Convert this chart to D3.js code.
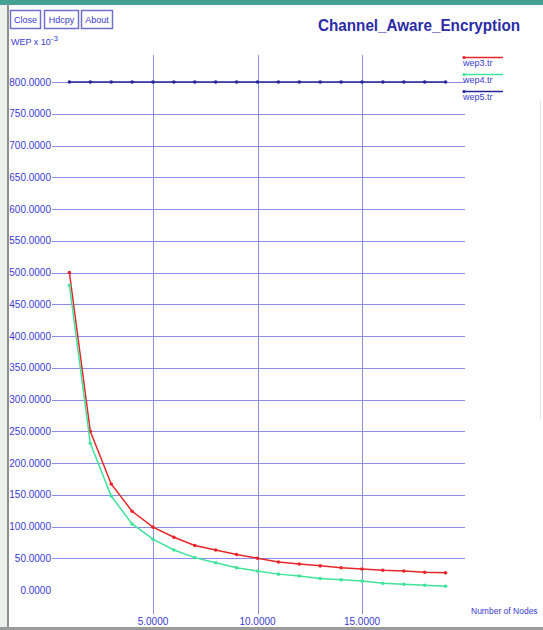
<!DOCTYPE html>
<html>
<head>
<meta charset="utf-8">
<script src="https://cdn.jsdelivr.net/npm/d3@7"></script>
<style>
  body { margin: 0; background: #fff; }
  svg { display: block; font-family: "Liberation Sans", Arial, sans-serif; }
</style>
</head>
<body>
<script>
// number of nodes
var nodes = [1,2,3,4,5,6,7,8,9,10,11,12,13,14,15,16,17,18,19];
// WEP x 10^-3
var wep3 = [500,250,167,124,99,83,70,63,56,50,44,41,38,35,33,31,30,28,27];
var wep4 = [480,231,148,104,80,63,51,43,35,30,25,22,18,16,14,10.5,9,7.4,5.8];
var wep5 = [800,800,800,800,800,800,800,800,800,800,800,800,800,800,800,800,800,800,800];
var seriesNames = ["wep3.tr", "wep4.tr", "wep5.tr"];
var seriesColors = ["#e8262a", "#3fe39a", "#25259a"];
var yTicks = [0,50,100,150,200,250,300,350,400,450,500,550,600,650,700,750,800];
var xTicks = [5,10,15];
var buttons = ["Close", "Hdcpy", "About"];

var width = 543, height = 630;
var blue = "#3a3ad2", grid = "#8c8ce6";

var svg = d3.select("body").append("svg")
    .attr("width", width)
    .attr("height", height);

var x = d3.scaleLinear().domain([0, 20]).range([48.5, 466.5]);
var y = d3.scaleLinear().domain([0, 800]).range([590, 82]);

// frame
svg.append("rect").attr("x", 0).attr("y", 0).attr("width", 8).attr("height", height).attr("fill", "#eef0ee");
svg.append("rect").attr("x", 0).attr("y", 0).attr("width", width).attr("height", 5).attr("fill", "#45a194");
svg.append("rect").attr("x", 7).attr("y", 4).attr("width", 2).attr("height", height).attr("fill", "#8f9190");
svg.append("rect").attr("x", 0).attr("y", 627).attr("width", width).attr("height", 3).attr("fill", "#9a9c9b");
svg.append("line").attr("x1", 540.5).attr("x2", 540.5).attr("y1", 100).attr("y2", 420)
    .attr("stroke", "#e4e4e4");

// buttons
var bx = [10, 44, 81], bw = [30, 34, 31];
buttons.forEach(function(b, i){
	svg.append("rect").attr("x", bx[i] + 0.5).attr("y", 10.5).attr("width", bw[i]).attr("height", 18)
	    .attr("fill", "#fff").attr("stroke", "#7070cc").attr("stroke-width", 1.5);
	svg.append("text").attr("x", bx[i] + bw[i] / 2 + 0.5).attr("y", 23)
	    .attr("text-anchor", "middle").attr("font-size", 9).attr("fill", blue).text(b);
});

var unit = svg.append("text").attr("x", 11).attr("y", 45).attr("font-size", 9).attr("fill", blue);
unit.append("tspan").text("WEP x 10");
unit.append("tspan").attr("dy", -4).attr("font-size", 8).text("-3");

// title
svg.append("text").attr("x", 318).attr("y", 31)
    .attr("font-size", 16).attr("font-weight", "bold").attr("fill", "#2b2ba8")
    .attr("textLength", 202).attr("lengthAdjust", "spacingAndGlyphs")
    .text("Channel_Aware_Encryption");

// grid
svg.selectAll(".hgrid").data(yTicks.filter(function(d){ return d > 0; })).enter()
    .append("line").attr("class", "hgrid")
    .attr("x1", 52).attr("x2", 465)
    .attr("y1", function(d){ return Math.round(y(d)) + 0.5; })
    .attr("y2", function(d){ return Math.round(y(d)) + 0.5; })
    .attr("stroke", grid).attr("stroke-width", 1);

svg.selectAll(".vgrid").data(xTicks).enter()
    .append("line").attr("class", "vgrid")
    .attr("x1", function(d){ return Math.round(x(d)) + 0.5; })
    .attr("x2", function(d){ return Math.round(x(d)) + 0.5; })
    .attr("y1", 55).attr("y2", 614)
    .attr("stroke", grid).attr("stroke-width", 1);

// axis labels
svg.selectAll(".ylab").data(yTicks).enter()
    .append("text").attr("class", "ylab")
    .attr("x", 51).attr("y", function(d){ return y(d) + 3.5; })
    .attr("text-anchor", "end").attr("font-size", 10).attr("fill", blue)
    .text(function(d){ return d3.format(".4f")(d); });

svg.selectAll(".xlab").data(xTicks).enter()
    .append("text").attr("class", "xlab")
    .attr("x", function(d){ return x(d); }).attr("y", 625)
    .attr("text-anchor", "middle").attr("font-size", 10).attr("fill", blue)
    .text(function(d){ return d3.format(".4f")(d); });

svg.append("text").attr("x", 471).attr("y", 614)
    .attr("font-size", 8.5).attr("fill", blue)
    .text("Number of Nodes");

// series
var dataset = [wep3, wep4, wep5];
var line = d3.line()
    .x(function(d, i){ return x(nodes[i]); })
    .y(function(d){ return y(d); });

dataset.forEach(function(s, k){
	svg.append("path").datum(s)
	    .attr("fill", "none").attr("stroke", seriesColors[k]).attr("stroke-width", 1.5)
	    .attr("d", line);
	svg.selectAll(".pt" + k).data(s).enter()
	    .append("circle").attr("class", "pt" + k)
	    .attr("cx", function(d, i){ return x(nodes[i]); })
	    .attr("cy", function(d){ return y(d); })
	    .attr("r", 1.8).attr("fill", seriesColors[k]);
});

// legend
var legY = [57, 74, 91];
var legend = svg.append("g");
seriesNames.forEach(function(n, k){
	legend.append("line").attr("x1", 463).attr("x2", 503)
	    .attr("y1", legY[k] + 0.5).attr("y2", legY[k] + 0.5)
	    .attr("stroke", seriesColors[k]).attr("stroke-width", 1.5);
	legend.append("circle").attr("cx", 464).attr("cy", legY[k] + 0.5).attr("r", 1.6)
	    .attr("fill", seriesColors[k]);
	legend.append("text").attr("x", 463).attr("y", legY[k] + 9)
	    .attr("font-size", 9).attr("fill", blue).text(n);
});
</script>
</body>
</html>
